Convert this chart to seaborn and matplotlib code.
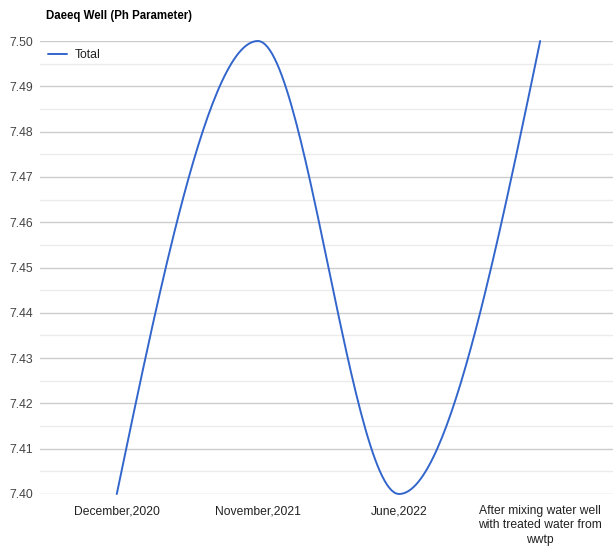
import numpy as np
import pandas as pd
import seaborn as sns
import matplotlib.pyplot as plt
from matplotlib.lines import Line2D

# data
categories = ["December,2020", "November,2021", "June,2022",
              "After mixing water well\nwith treated water from\nwwtp"]
ph_values = [7.40, 7.50, 7.40, 7.50]
series_name = "Total"
title = "Daeeq Well (Ph Parameter)"

LINE_COLOR = "#3366cc"


def smooth_curve(y, steps=60):
    """ Hermite spline through the points (like a 'function' curve type). """
    y = np.asarray(y, dtype=float)
    n = len(y)
    m = np.zeros(n)
    for i in range(1, n - 1):
        m[i] = (y[i + 1] - y[i - 1]) / 2
    m[0] = 1.5 * (y[1] - y[0]) - 0.5 * m[1]
    m[-1] = 1.5 * (y[-1] - y[-2]) - 0.5 * m[-2]
    xs, ys = [], []
    t = np.linspace(0, 1, steps)
    h00 = 2 * t**3 - 3 * t**2 + 1
    h10 = t**3 - 2 * t**2 + t
    h01 = -2 * t**3 + 3 * t**2
    h11 = t**3 - t**2
    for i in range(n - 1):
        xs.append(i + t)
        ys.append(h00 * y[i] + h10 * m[i] + h01 * y[i + 1] + h11 * m[i + 1])
    return np.concatenate(xs), np.concatenate(ys)


def main():
    sns.set_theme(style="white")
    plt.rcParams['font.family'] = ['Arial', 'Liberation Sans', 'DejaVu Sans']

    fig = plt.figure(figsize=(6.13, 5.52), dpi=100)
    ax = fig.add_axes([40 / 613, 1 - 494 / 552, 1 - 40 / 613, 453 / 552])

    cx, cy = smooth_curve(ph_values)
    curve = pd.DataFrame({"x": cx, "y": cy})
    sns.lineplot(data=curve, x="x", y="y", ax=ax, color=LINE_COLOR,
                 linewidth=1.4, sort=False, clip_on=False)

    ax.set_xlim(-0.544, 3.516)
    ax.set_ylim(7.40, 7.50)

    major = np.round(np.arange(7.40, 7.5001, 0.01), 2)
    minor = np.round(np.arange(7.405, 7.5, 0.01), 3)
    ax.set_yticks(major)
    ax.set_yticklabels([f"{v:.2f}" for v in major], color="#444444", fontsize=8.8)
    ax.set_yticks(minor, minor=True)
    ax.grid(axis="y", which="major", color="#cccccc", linewidth=1)
    ax.grid(axis="y", which="minor", color="#ebebeb", linewidth=1)
    ax.grid(axis="x", visible=False)
    ax.set_axisbelow(True)

    ax.set_xticks(range(len(categories)))
    ax.set_xticklabels(categories, color="#222222", fontsize=8.7,
                       linespacing=1.25)
    ax.tick_params(axis="both", which="both", length=0)
    ax.tick_params(axis="x", pad=8)
    ax.tick_params(axis="y", pad=5)
    ax.set_xlabel("")
    ax.set_ylabel("")
    for s in ax.spines.values():
        s.set_visible(False)

    handle = Line2D([0], [0], color=LINE_COLOR, linewidth=1.4)
    ax.legend([handle], [series_name], loc="center left",
              bbox_to_anchor=(44 / 613, 1 - 55 / 552),
              bbox_transform=fig.transFigure, frameon=False,
              fontsize=8.8, handlelength=1.6, handletextpad=0.6,
              labelcolor="#222222", borderaxespad=0, borderpad=0.3)

    fig.text(46 / 613, 1 - 16 / 552, title, fontsize=8.3, fontweight="bold",
             color="#000000", va="center", ha="left")

    fig.savefig("out.png", dpi=100)


if __name__ == '__main__':
    main()
